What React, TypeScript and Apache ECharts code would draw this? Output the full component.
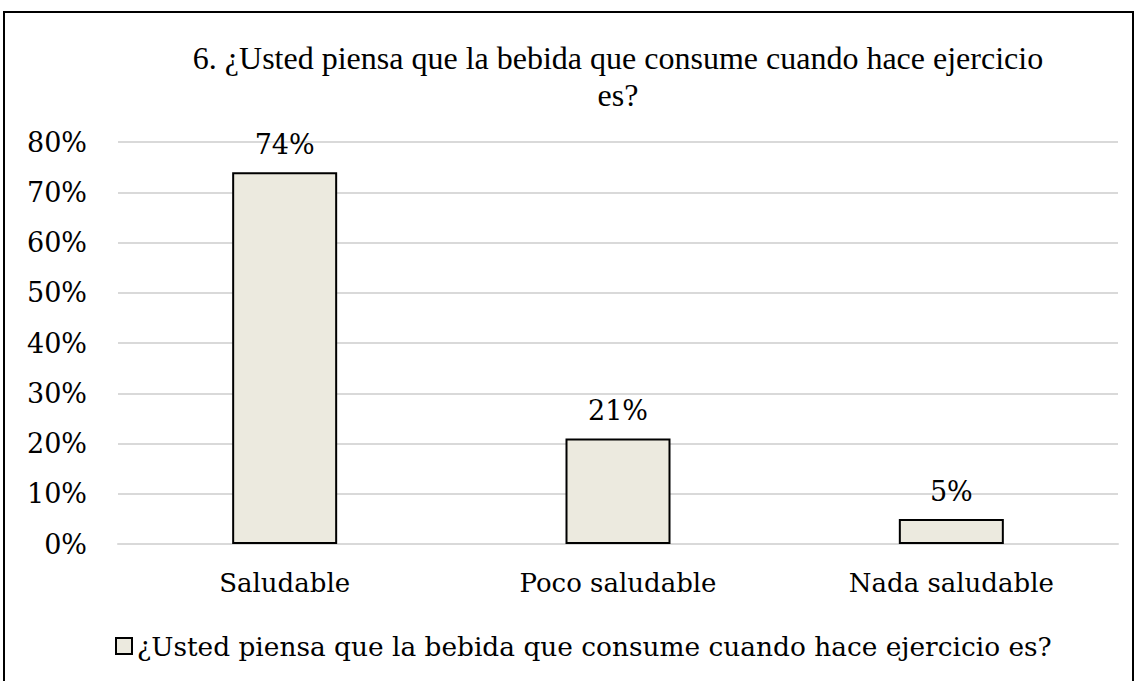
import React, { useEffect, useRef } from "react";
import * as echarts from "echarts";

const categories = ["Saludable", "Poco saludable", "Nada saludable"];
const values = [74, 21, 5];
const seriesName = "¿Usted piensa que la bebida que consume cuando hace ejercicio es?";
const titleLines = ["6. ¿Usted piensa que la bebida que consume cuando hace ejercicio", "es?"];

export default function App() {
  const ref = useRef<HTMLDivElement>(null);
  useEffect(() => {
    document.body.style.margin = "0";
    const chart = echarts.init(ref.current!, null, { renderer: "svg" });
    const serif = "DejaVu Serif";
    const titleStyle = {
      fontFamily: "Liberation Serif",
      fontSize: 32,
      fill: "#000",
      align: "center",
      verticalAlign: "middle",
    };
    chart.setOption({
      animation: false,
      backgroundColor: "#ffffff",
      graphic: [
        {
          type: "rect",
          shape: { x: 4, y: 12, width: 1129, height: 700 },
          style: { fill: "none", stroke: "#000", lineWidth: 2 },
          silent: true,
          z: 100,
        },
        { type: "text", x: 618, y: 58, style: { ...titleStyle, text: titleLines[0] } },
        { type: "text", x: 618, y: 95, style: { ...titleStyle, text: titleLines[1] } },
      ],
      legend: {
        data: [seriesName],
        left: 110,
        top: 628,
        icon: "rect",
        itemWidth: 16,
        itemHeight: 16,
        itemGap: 4,
        itemStyle: { borderColor: "#000", borderWidth: 2 },
        textStyle: { fontFamily: serif, fontSize: 26.4, color: "#000" },
      },
      grid: { left: 118, right: 18, top: 142, bottom: 137, containLabel: false },
      xAxis: {
        type: "category",
        data: categories,
        axisLine: { show: true, lineStyle: { color: "#d9d9d9", width: 2 } },
        axisTick: { show: false },
        axisLabel: { fontFamily: serif, fontSize: 26, color: "#000", margin: 26 },
      },
      yAxis: {
        type: "value",
        min: 0,
        max: 80,
        interval: 10,
        axisLine: { show: false },
        axisTick: { show: false },
        axisLabel: {
          fontFamily: serif,
          fontSize: 27,
          color: "#000",
          margin: 31,
          formatter: (v: number) => v + "%",
        },
        splitLine: { lineStyle: { color: "#d9d9d9", width: 2 } },
      },
      series: [
        {
          name: seriesName,
          type: "bar",
          data: values,
          barWidth: "31.5%",
          itemStyle: { color: "#ECEADF", borderColor: "#000", borderWidth: 2 },
          label: {
            show: true,
            position: "top",
            distance: 14,
            fontFamily: serif,
            fontSize: 27,
            color: "#000",
            formatter: (p: any) => p.value + "%",
          },
        },
      ],
    });
    return () => chart.dispose();
  }, []);
  return <div ref={ref} style={{ width: 1136, height: 681 }} />;
}
